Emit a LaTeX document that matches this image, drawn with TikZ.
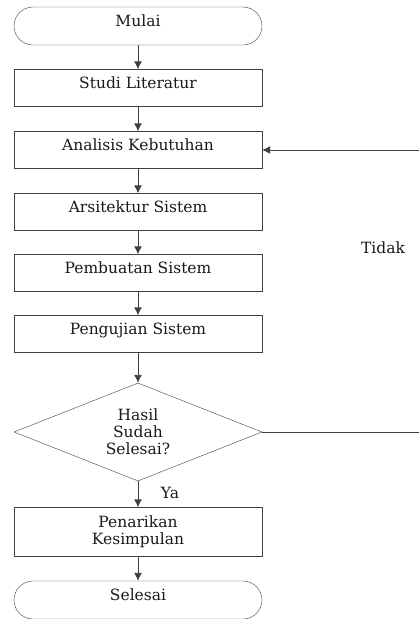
\documentclass[tikz,border=0pt]{standalone}
\usepackage{fontspec}
\setmainfont{DejaVu Serif}
\usetikzlibrary{shapes.geometric,arrows.meta}

\begin{document}
\begin{tikzpicture}[x=1pt, y=-1pt, every node/.style={draw=black!75, text=black!90, font=\fontsize{15.5}{17}\selectfont, align=center, minimum width=248pt}]
	\tikzset{kotak/.style={rectangle, minimum height=37pt},
		proses/.style={kotak, text height=11pt, text depth=11pt},
		terminal/.style={proses, rounded corners=19pt, minimum height=38pt},
		putusan/.style={diamond, aspect=2.53, minimum height=98pt, inner sep=0pt},
		teks/.style={draw=none, minimum width=0pt},
		garis/.style={draw=black!75, line width=0.9pt},
		panah/.style={garis, -{Latex[length=8pt,width=8pt]}}}
	\useasboundingbox (0,0) rectangle (419,619);
	\node[terminal] (mulai)     at (138,26)  {Mulai};
	\node[proses]   (studi)     at (138,88)  {Studi Literatur};
	\node[proses]   (analisis)  at (138,150) {Analisis Kebutuhan};
	\node[proses]   (arsitektur) at (138,212) {Arsitektur Sistem};
	\node[proses]   (pembuatan) at (138,273) {Pembuatan Sistem};
	\node[proses]   (pengujian) at (138,334) {Pengujian Sistem};
	\node[putusan]  (hasil)     at (138,432) {Hasil\\Sudah\\Selesai?};
	\node[kotak, minimum height=49pt] (penarikan) at (138,532) {Penarikan\\Kesimpulan};
	\node[terminal] (selesai)   at (138,600) {Selesai};
	\node[teks] (tidak) at (383,248) {Tidak};
	\node[teks] (ya)    at (170,493) {Ya};
	\coordinate (kanan1) at (419,150);
	\coordinate (kanan2) at (419,432);
	% alur utama
	\draw[panah] (mulai) -- (studi);
	\draw[panah] (studi) -- (analisis);
	\draw[panah] (analisis) -- (arsitektur);
	\draw[panah] (arsitektur) -- (pembuatan);
	\draw[panah] (pembuatan) -- (pengujian);
	\draw[panah] (pengujian) -- (hasil);
	\draw[panah] (hasil) -- (penarikan);
	\draw[panah] (penarikan) -- (selesai);
	% umpan balik
	\draw[garis] (hasil) -- (kanan2);
	\draw[panah] (kanan1) -- (analisis);
\end{tikzpicture}
\end{document}
